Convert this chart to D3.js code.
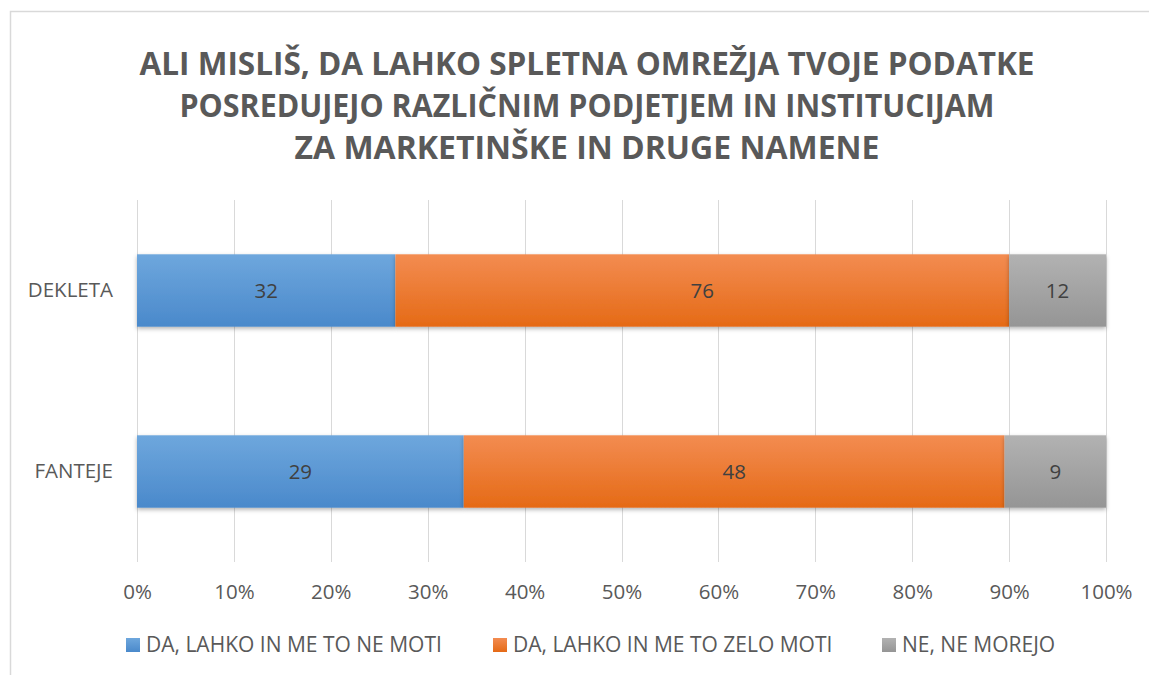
<!DOCTYPE html>
<html><head><meta charset="utf-8">
<script src="https://cdn.jsdelivr.net/npm/d3@7"></script>
<style>body{margin:0;background:#fff}svg{display:block}</style>
</head><body>
<svg id="c" width="1149" height="675"></svg>
<script>
const titleLines = ["ALI MISLIŠ, DA LAHKO SPLETNA OMREŽJA TVOJE PODATKE","POSREDUJEJO RAZLIČNIM PODJETJEM IN INSTITUCIJAM","ZA MARKETINŠKE IN DRUGE NAMENE"];
const categories = ["DEKLETA","FANTEJE"];
const seriesNames = ["DA, LAHKO IN ME TO NE MOTI","DA, LAHKO IN ME TO ZELO MOTI","NE, NE MOREJO"];
const seriesValues = [[32,29],[76,48],[12,9]];
const tickValues = [0,0.1,0.2,0.3,0.4,0.5,0.6,0.7,0.8,0.9,1];
const colors = [["#6ea7dd","#4a89cb"],["#f38c51","#e56a16"],["#b2b2b2","#959595"]];

const svg = d3.select("#c");
const font = "Open Sans, Calibri, sans-serif";
const txt = "#595959";
svg.append("rect").attr("x",10.5).attr("y",11.5).attr("width",1200).attr("height",700)
  .attr("fill","#fff").attr("stroke","#d9d9d9").attr("stroke-width",1.5);

const defs = svg.append("defs");
colors.forEach((c,i)=>{
  const g = defs.append("linearGradient").attr("id","g"+i).attr("x1",0).attr("y1",0).attr("x2",0).attr("y2",1);
  g.append("stop").attr("offset",0).attr("stop-color",c[0]);
  g.append("stop").attr("offset",1).attr("stop-color",c[1]);
});
const f = defs.append("filter").attr("id","sh").attr("x","-5%").attr("y","-20%").attr("width","110%").attr("height","150%");
f.append("feDropShadow").attr("dx",0).attr("dy",2).attr("stdDeviation",2).attr("flood-color","#000").attr("flood-opacity",0.3);

// title
const titleY = [75,117,159];
const titleW = [895,815,585];
titleLines.forEach((t,i)=>{
  svg.append("text").attr("x",587).attr("y",titleY[i]).attr("text-anchor","middle")
    .attr("font-family",font).attr("font-weight",700).attr("font-size",32).attr("fill",txt)
    .attr("textLength",titleW[i]).attr("lengthAdjust","spacingAndGlyphs").text(t);
});

const x = d3.scaleLinear().domain([0,1]).range([137,1106]);
const y = d3.scaleBand().domain(categories).range([200,562]).paddingInner(0.6).paddingOuter(0.3);

// grid
svg.append("g").selectAll("line").data(tickValues).join("line")
  .attr("x1",d=>Math.round(x(d))+0.5).attr("x2",d=>Math.round(x(d))+0.5)
  .attr("y1",200).attr("y2",562).attr("stroke","#d9d9d9").attr("stroke-width",1);

// axis
const ax = svg.append("g").attr("transform","translate(0,562)")
  .call(d3.axisBottom(x).tickValues(tickValues).tickFormat(d3.format(".0%")).tickSize(0).tickPadding(22));
ax.select(".domain").remove();
ax.selectAll("text").attr("font-family",font).attr("font-size",20.5).attr("fill",txt);

const ay = svg.append("g").attr("transform","translate(113,0)")
  .call(d3.axisLeft(y).tickSize(0).tickPadding(0));
ay.select(".domain").remove();
ay.selectAll("text").attr("font-family",font).attr("font-size",20.5).attr("fill",txt);

// stack
const totals = categories.map((c,j)=>d3.sum(seriesValues,s=>s[j]));
categories.forEach((c,j)=>{
  let acc = 0;
  seriesValues.forEach((s,i)=>{
    const v = s[j]/totals[j];
    const x0 = x(acc), x1 = x(acc+v);
    svg.append("rect").attr("x",x0).attr("y",y(c)).attr("width",x1-x0).attr("height",y.bandwidth())
      .attr("fill",`url(#g${i})`).attr("filter","url(#sh)");
    svg.append("text").attr("x",(x0+x1)/2).attr("y",y(c)+y.bandwidth()/2).attr("dy","0.35em")
      .attr("text-anchor","middle").attr("font-family",font).attr("font-size",20.5).attr("fill","#404040").text(s[j]);
    acc += v;
  });
});

// legend
const legX = [126,493,882];
seriesNames.forEach((n,i)=>{
  svg.append("rect").attr("x",legX[i]).attr("y",638).attr("width",14).attr("height",14).attr("fill",`url(#g${i})`);
  svg.append("text").attr("x",legX[i]+20).attr("y",645).attr("dy","0.35em").attr("font-family",font)
    .attr("font-size",21).attr("fill",txt).text(n);
});
</script>
</body></html>
